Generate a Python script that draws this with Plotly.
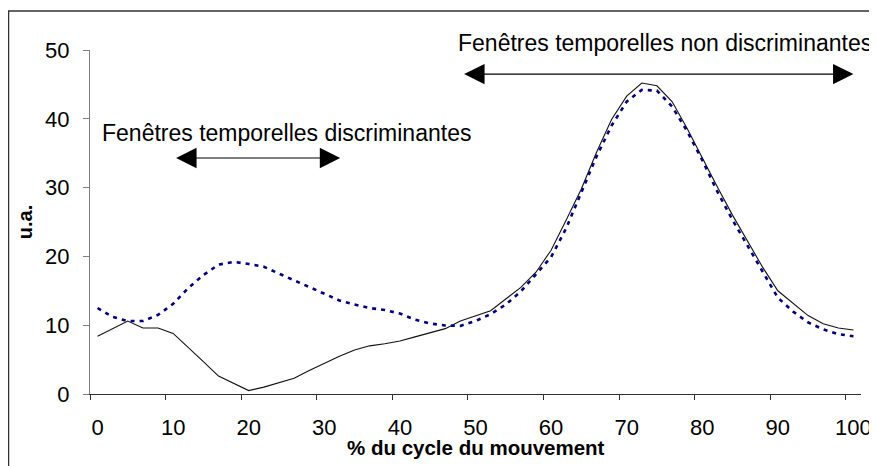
import plotly.graph_objects as go

# % of the movement cycle (one category every 2 %)
pct_cycle = [0, 2, 4, 6, 8, 10, 12, 14, 16, 18, 20, 22, 24, 26, 28, 30, 32, 34, 36, 38,
             40, 42, 44, 46, 48, 50, 52, 54, 56, 58, 60, 62, 64, 66, 68, 70, 72, 74, 76, 78,
             80, 82, 84, 86, 88, 90, 92, 94, 96, 98, 100]

# solid black curve
curve_a = [8.4, 9.5, 10.6, 9.6, 9.6, 8.8, 6.8, 4.7, 2.6, 1.5, 0.5, 1.0, 1.6, 2.3, 3.4, 4.5,
           5.5, 6.4, 7.0, 7.3, 7.7, 8.3, 8.9, 9.5, 10.6, 11.3, 12.1, 13.8, 15.5, 17.7, 20.9,
           25.3, 29.8, 35.1, 39.9, 43.3, 45.2, 44.8, 42.5, 38.6, 34.3, 30.1, 26.0, 22.1, 18.4,
           15.0, 13.2, 11.4, 10.2, 9.6, 9.3]

# dashed navy curve
curve_b = [12.5, 11.2, 10.6, 10.6, 11.5, 13.1, 15.4, 17.3, 18.8, 19.2, 18.9, 18.5, 17.5, 16.5,
           15.5, 14.6, 13.6, 13.0, 12.5, 12.2, 11.7, 10.8, 10.25, 9.95, 9.9, 10.6, 11.6, 13.0,
           14.9, 17.4, 19.9, 24.1, 29.3, 34.5, 39.0, 42.5, 44.2, 44.1, 41.8, 38.2, 34.0, 29.4,
           25.3, 21.5, 17.7, 14.0, 12.0, 10.4, 9.4, 8.7, 8.4]

x_labels = [0, 10, 20, 30, 40, 50, 60, 70, 80, 90, 100]
x_tick_marks = [-1, 9, 19, 29, 39, 49, 59, 69, 79, 89, 99]
y_ticks = [0, 10, 20, 30, 40, 50]

# double arrows: (x start, x end, y) in data units
arrow_discr = (10.2, 32.1, 34.3)
arrow_non_discr = (48.3, 100.0, 46.5)

FONT = 'Liberation Sans, Arial, sans-serif'

fig = go.Figure()
fig.add_trace(go.Scatter(x=pct_cycle, y=curve_a, mode='lines',
                         line=dict(color='#111111', width=1.1),
                         showlegend=False))
fig.add_trace(go.Scatter(x=pct_cycle, y=curve_b, mode='lines',
                         line=dict(color='#000080', width=2.6, dash='4px,5px'),
                         showlegend=False))

for x0, x1, yy in [arrow_discr, arrow_non_discr]:
    fig.add_annotation(x=x1, y=yy, ax=x0, ay=yy, xref='x', yref='y', axref='x', ayref='y',
                       showarrow=True, arrowhead=2, arrowside='end+start',
                       arrowwidth=1.2, arrowsize=3.4, arrowcolor='black', text='')

fig.add_annotation(x=0.2555, y=0.759, xref='paper', yref='paper', showarrow=False,
                   xanchor='center', yanchor='middle',
                   text='Fenêtres temporelles discriminantes',
                   font=dict(family=FONT, size=23, color='black'))
fig.add_annotation(x=0.7458, y=1.0203, xref='paper', yref='paper', showarrow=False,
                   xanchor='center', yanchor='middle',
                   text='Fenêtres temporelles non discriminantes',
                   font=dict(family=FONT, size=23, color='black'))
fig.add_annotation(x=0.5, y=-0.156, xref='paper', yref='paper', showarrow=False,
                   xanchor='center', yanchor='middle',
                   text='<b>% du cycle du mouvement</b>',
                   font=dict(family=FONT, size=20.5, color='black'))

# outer chart-area frame (runs past the right and bottom edges)
fig.add_shape(type='rect', xref='paper', yref='paper', x0=-0.1057, x1=1.03, y0=-0.25, y1=1.1133,
              line=dict(color='#333333', width=1.5), layer='below')

# the page adds an 8px body margin, so the figure is 8px smaller than the window
fig.update_layout(
    width=869, height=458,
    margin=dict(l=82, r=16, t=42, b=72, autoexpand=False),
    paper_bgcolor='white', plot_bgcolor='white',
    font=dict(family=FONT, size=22, color='black'),
    xaxis=dict(range=[-1, 101], tickvals=x_labels, ticks='', showgrid=False, zeroline=False,
               showline=True, linecolor='#303030', linewidth=1.2,
               ticklabelstandoff=13,
               minor=dict(tickvals=x_tick_marks, ticks='outside', ticklen=5,
                          tickcolor='#303030', tickwidth=1, showgrid=False)),
    yaxis=dict(range=[0, 50], tickvals=y_ticks, ticks='outside', ticklen=6, tickcolor='#808080',
               showgrid=False, zeroline=False, showline=True, linecolor='#808080', linewidth=1.2,
               ticklabelstandoff=9,
               title=dict(text='<b>u.a.</b>', standoff=7, font=dict(family=FONT, size=20))),
)

fig.write_html('out.html')
